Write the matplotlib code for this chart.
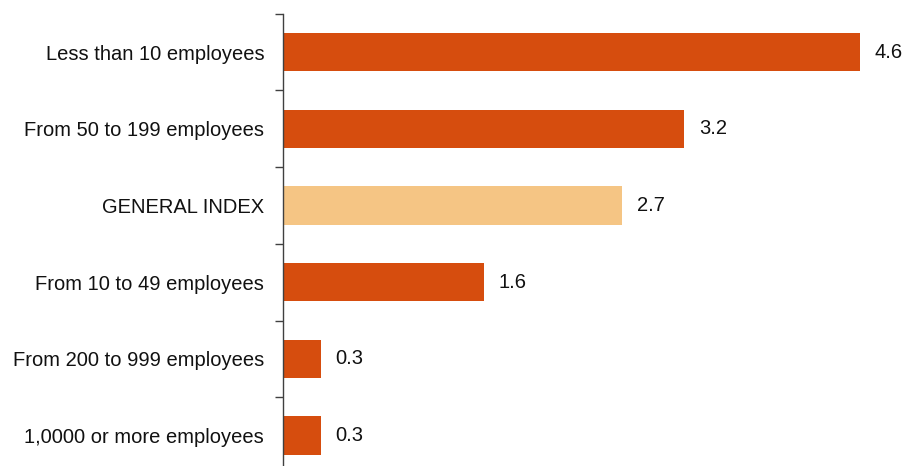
import numpy as np
import matplotlib

matplotlib.use("Agg")
import matplotlib.pyplot as plt

plt.rcParams["font.family"] = ["Liberation Sans", "DejaVu Sans"]

categories = [
    "Less than 10 employees",
    "From 50 to 199 employees",
    "GENERAL INDEX",
    "From 10 to 49 employees",
    "From 200 to 999 employees",
    "1,0000 or more employees",
]
values = [4.6, 3.2, 2.7, 1.6, 0.3, 0.3]
highlight = "GENERAL INDEX"

DARK = "#D64D0E"
LIGHT = "#F5C584"

fig = plt.figure(figsize=(9.07, 4.66), dpi=100)
ax = fig.add_axes([283 / 907, 1 - 474 / 466, 627 / 907, (474 - 13.7) / 466])

y = np.arange(len(categories))
colors = [LIGHT if c == highlight else DARK for c in categories]
ax.barh(y, values, height=0.5, color=colors)
for yi, v in zip(y, values):
    ax.text(v + 0.12, yi, f"{v:.1f}", va="center", ha="left", fontsize=14.5, color="#111111")

ax.set_xlim(0, 5)
ax.set_ylim(len(categories) - 0.5, -0.5)
ax.set_yticks(y, categories, fontsize=14.5, color="#111111")
ax.tick_params(axis="y", which="major", length=0, pad=13.5)
# short ticks between the categories
ax.set_yticks(np.arange(-0.5, len(categories), 1), minor=True)
ax.tick_params(axis="y", which="minor", length=6, width=1, color="#404040")
ax.set_xticks([])
for side in ("top", "right", "bottom"):
    ax.spines[side].set_visible(False)
ax.spines["left"].set_color("#404040")
ax.spines["left"].set_linewidth(1)

fig.savefig("out.png", dpi=100)
